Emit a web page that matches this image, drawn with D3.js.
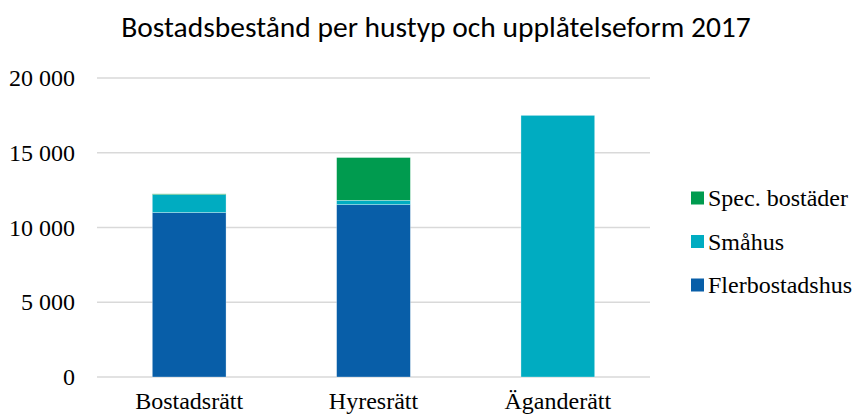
<!DOCTYPE html>
<html>
<head>
<meta charset="utf-8">
<script src="https://cdn.jsdelivr.net/npm/d3@7"></script>
<style>
  body { margin: 0; background: #fff; }
  svg { display: block; }
  .title { font-family: Carlito, Calibri, "Open Sans", sans-serif; font-size: 29.5px; fill: #000; }
  .ax text { font-family: "Liberation Serif", "Times New Roman", serif; font-size: 24px; fill: #000; }
  .legend text { font-family: "Liberation Serif", "Times New Roman", serif; font-size: 24px; fill: #000; }
</style>
</head>
<body>
<div id="chart"></div>
<script>
// Data
const categories = ["Bostadsrätt", "Hyresrätt", "Äganderätt"];
const flerbostadshus = [11000, 11530, 0];
const smahus = [1200, 290, 17500];
const specBostader = [50, 2860, 0];
const seriesNames = ["Flerbostadshus", "Småhus", "Spec. bostäder"];
const seriesColors = ["#085ea8", "#00acc1", "#009b4f"];
const yTicks = [0, 5000, 10000, 15000, 20000];

const W = 853, H = 416;
const margin = { top: 78, left: 97, right: 203, bottom: 39 };

const svg = d3.select("#chart").append("svg")
  .attr("width", W).attr("height", H);

const x = d3.scaleBand()
  .domain(categories)
  .range([margin.left, W - margin.right])
  .paddingInner(0.6).paddingOuter(0.3);

const y = d3.scaleLinear()
  .domain([0, 20000])
  .range([H - margin.bottom, margin.top]);

// Title
svg.append("text")
  .attr("class", "title")
  .attr("x", 436).attr("y", 37)
  .attr("text-anchor", "middle")
  .text("Bostadsbestånd per hustyp och upplåtelseform 2017");

// Gridlines
svg.append("g")
  .selectAll("line")
  .data(yTicks)
  .join("line")
  .attr("x1", margin.left).attr("x2", W - margin.right)
  .attr("y1", d => y(d)).attr("y2", d => y(d))
  .attr("stroke", "#d9d9d9").attr("stroke-width", 1.3);

// Y axis labels
const fmt = d => d3.format(",")(d).replace(/,/g, " ");
svg.append("g")
  .attr("class", "ax")
  .attr("transform", `translate(${margin.left}, 0)`)
  .call(d3.axisLeft(y).tickValues(yTicks).tickSize(0).tickPadding(22).tickFormat(fmt))
  .call(g => g.select(".domain").remove());

// Stack
const rows = categories.map((c, i) => ({
  cat: c,
  "Flerbostadshus": flerbostadshus[i],
  "Småhus": smahus[i],
  "Spec. bostäder": specBostader[i]
}));
const stacked = d3.stack().keys(seriesNames)(rows);
const color = d3.scaleOrdinal().domain(seriesNames).range(seriesColors);

svg.append("g")
  .selectAll("g")
  .data(stacked)
  .join("g")
  .attr("fill", d => color(d.key))
  .selectAll("rect")
  .data(d => d.filter(p => p[1] - p[0] > 0))
  .join("rect")
  .attr("x", d => x(d.data.cat))
  .attr("width", x.bandwidth())
  .attr("y", d => y(d[1]))
  .attr("height", d => y(d[0]) - y(d[1]))
  .attr("stroke", "#ffffff").attr("stroke-opacity", 0.5).attr("stroke-width", 0.6);

// X axis labels (baseline just above the bottom edge)
svg.append("g")
  .attr("class", "ax")
  .attr("transform", `translate(0, ${H - margin.bottom})`)
  .call(d3.axisBottom(x).tickSize(0).tickPadding(0))
  .call(g => g.select(".domain").remove())
  .call(g => g.selectAll(".tick text").attr("dy", null).attr("y", 32));

// Legend (reverse order, top = Spec. bostäder)
const legend = svg.append("g").attr("class", "legend");
const legendItems = seriesNames.slice().reverse();
const li = legend.selectAll("g")
  .data(legendItems)
  .join("g")
  .attr("transform", (d, i) => `translate(691, ${198 + i * 43.5})`);
li.append("rect")
  .attr("x", 0).attr("y", -6.5)
  .attr("width", 13).attr("height", 13)
  .attr("fill", d => color(d));
li.append("text")
  .attr("x", 17).attr("y", 0)
  .attr("dy", "0.35em")
  .text(d => d);
</script>
</body>
</html>
